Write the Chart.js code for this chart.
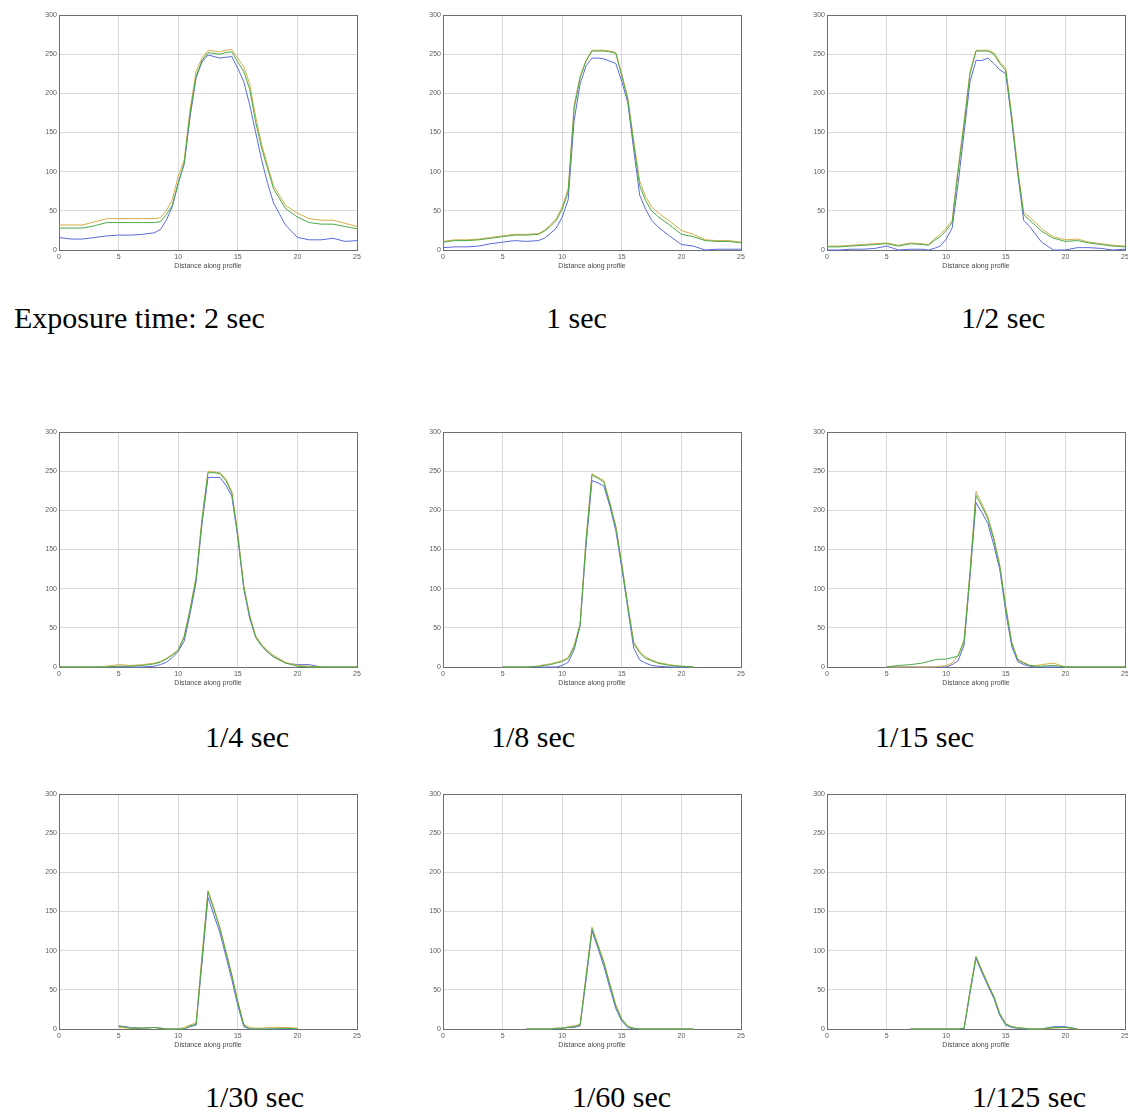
<!DOCTYPE html>
<html><head><meta charset="utf-8">
<script src="https://cdn.jsdelivr.net/npm/chart.js@4.4.1/dist/chart.umd.min.js"></script>
<style>
html,body{margin:0;padding:0;background:#fff;overflow:hidden;width:1128px;height:1112px;}
#wrap{position:relative;width:1128px;height:1112px;overflow:hidden;background:#fff;}
#wrap canvas{position:absolute;}
.cap{position:absolute;font-family:"Liberation Serif","Times New Roman",serif;font-size:30px;line-height:30px;color:#000;white-space:nowrap;}
</style></head><body><div id="wrap"></div>
<script>
// shared sample positions along the profile
const X = [0,1,2,3,4,5,6,7,8, 8.5,9,9.5,10,10.5,11,11.5,12,12.5,13,13.5,14,14.5,15,15.5,16,16.5,17,17.5, 18,19,20,21,22,23,24,25];
const N = null;
// 2 sec
const R1 = [32,32,32,36,40,40,40,40,40, 41,50,64,94,115,180,228,245,255,254,253,255,256,245,234,212,170,135,108, 82,57,47,40,38,38,34,30];
const G1 = [28,28,28,31,35,35,35,35,35, 36,45,57,85,110,175,222,242,252,251,250,252,253,240,228,205,163,130,104, 78,53,42,35,33,33,30,27];
const B1 = [16,14,14,16,18,19,19,20,22, 26,38,55,85,110,170,220,240,249,247,245,246,247,232,215,185,150,115,85, 60,32,16,13,13,15,11,12];
// 1 sec
const R2 = [11,13,13,14,16,18,20,20,21, 25,32,40,55,78,185,222,242,255,255,255,254,252,225,195,140,88,68,55, 48,37,25,20,13,12,12,10];
const G2 = [10,12,12,13,15,17,19,19,20, 24,30,38,52,74,180,220,241,254,254,254,253,251,222,192,135,82,63,50, 43,32,20,17,12,11,11,9];
const B2 = [3,4,4,5,8,10,12,11,12, 15,21,28,42,64,165,212,235,245,245,244,241,238,215,188,128,70,52,38, 30,18,7,5,0,1,1,1];
// 1/2 sec
const R3 = [5,5,6,7,8,9,6,9,8, 7,14,20,28,38,105,165,228,255,255,255,252,240,232,172,105,48,42,35, 27,17,13,14,10,8,6,5];
const G3 = [4,4,5,6,7,8,5,8,7, 6,12,17,25,35,100,160,225,254,254,254,250,238,229,168,100,45,38,31, 24,15,11,12,9,7,5,4];
const B3 = [0,0,1,1,2,5,0,1,1, 0,2,5,14,28,85,150,215,242,242,245,238,230,225,165,98,38,30,20, 10,0,0,3,3,2,0,1];
// 1/4 sec
const R4 = [0,0,0,0,1,3,2,3,5, 7,11,16,22,40,75,115,190,250,249,248,240,224,170,104,66,40,29,21, 15,6,2,1,0,0,0,0];
const G4 = [0,0,0,0,0,1,1,2,4, 6,10,15,21,38,73,113,188,248,248,247,238,222,168,102,64,38,27,19, 13,5,1,0,0,0,0,0];
const B4 = [0,0,0,0,0,0,0,0,1, 3,6,12,20,33,68,108,183,242,242,242,232,218,165,100,62,38,27,19, 13,5,3,3,0,0,0,0];
// 1/8 sec
const R5 = [N,N,N,N,N,0,0,0,1, 3,4,6,8,12,28,55,165,247,242,238,210,180,132,80,32,20,13,9, 6,3,1,0,N,N,N,N];
const G5 = [N,N,N,N,N,0,0,0,1, 2,3,5,7,11,25,54,160,245,241,236,208,178,130,78,30,18,11,8, 5,2,1,0,N,N,N,N];
const B5 = [N,N,N,N,N,0,0,0,0, 0,0,0,2,6,22,52,155,238,235,231,205,174,126,75,24,9,5,2, 1,0,0,0,N,N,N,N];
// 1/15 sec
const R6 = [N,N,N,N,N,0,0,0,0, 0,0,1,2,5,15,35,123,224,208,192,165,130,78,32,10,6,2,2, 3,5,0,0,0,0,0,0];
const G6 = [N,N,N,N,N,0,2,3,5, 7,9,10,10,12,14,32,120,219,205,189,162,128,75,30,9,5,2,1, 1,2,0,0,0,0,0,0];
const B6 = [N,N,N,N,N,0,0,0,0, 0,0,0,0,3,8,28,115,210,197,183,155,124,70,26,7,3,1,0, 0,0,0,0,0,0,0,0];
// 1/30 sec
const R7 = [N,N,N,N,N,2,1,1,2, 1,0,0,0,2,5,8,95,177,155,130,100,70,36,6,2,1,1,2, 2,2,1,N,N,N,N,N];
const G7 = [N,N,N,N,N,4,1,1,2, 1,0,0,0,0,4,6,90,175,152,128,98,68,34,5,0,0,0,0, 0,1,0,N,N,N,N,N];
const B7 = [N,N,N,N,N,4,2,1,2, 1,0,0,0,0,3,5,85,168,145,123,93,63,30,3,0,0,0,0, 0,0,0,N,N,N,N,N];
// 1/60 sec
const R8 = [N,N,N,N,N,N,N,0,0, 0,0,1,1,3,4,6,68,130,108,86,58,31,13,4,1,0,0,0, 0,0,0,0,N,N,N,N];
const G8 = [N,N,N,N,N,N,N,0,0, 0,0,1,1,2,3,5,66,128,106,84,56,29,12,3,1,0,0,0, 0,0,0,0,N,N,N,N];
const B8 = [N,N,N,N,N,N,N,0,0, 0,0,0,1,2,2,4,62,125,103,80,52,26,10,2,0,0,0,0, 0,0,0,0,N,N,N,N];
// 1/125 sec
const R9 = [N,N,N,N,N,N,N,0,0, 0,0,0,0,0,0,1,50,93,75,58,42,20,7,3,2,1,0,0, 0,1,2,0,N,N,N,N];
const G9 = [N,N,N,N,N,N,N,0,0, 0,0,0,0,0,0,1,48,92,74,57,41,19,6,3,1,1,0,0, 0,2,2,0,N,N,N,N];
const B9 = [N,N,N,N,N,N,N,0,0, 0,0,0,0,0,0,0,46,90,72,55,39,17,5,2,1,0,0,0, 0,3,3,0,N,N,N,N];

const CAPTIONS = ["Exposure time: 2 sec","1 sec","1/2 sec","1/4 sec","1/8 sec","1/15 sec","1/30 sec","1/60 sec","1/125 sec"];
const X_TICKS = [0,5,10,15,20,25];
const Y_TICKS = [0,50,100,150,200,250,300];
const X_TITLE = "Distance along profile";

const PANELS = [[R1,G1,B1],[R2,G2,B2],[R3,G3,B3],[R4,G4,B4],[R5,G5,B5],[R6,G6,B6],[R7,G7,B7],[R8,G8,B8],[R9,G9,B9]];

// layout
const COL_LEFT = [59,443,827], ROW_TOP = [15,432,794], PW = 298, PH = 235;
const YW = 30, XH = 20, PADT = 10, PADR = 12, PADB = 10;
const CAP_POS = [[14,303],[546,303],[961,303],[205,722],[491,722],[875,722],[205,1082],[572,1082],[972,1082]];
const COLORS = {r:'#d6ae48', g:'#4aa84a', b:'#5a6bdc'};

const frame = {
  id:'frame',
  beforeDatasetsDraw(chart){
    const a = chart.chartArea, ctx = chart.ctx;
    ctx.save();
    ctx.strokeStyle = '#6e6e6e';
    ctx.lineWidth = 1;
    ctx.strokeRect(a.left+0.5, a.top+0.5, a.right-a.left, a.bottom-a.top);
    ctx.restore();
  }
};

const wrap = document.getElementById('wrap');
const pts = arr => X.map((x,i)=>({x:x, y:arr[i]}));
const tickFont = {family:'"Liberation Sans", Arial, sans-serif', size:7};

PANELS.forEach((p,k)=>{
  const c = document.createElement('canvas');
  const W = YW + PW + PADR, H = PADT + PH + XH + PADB;
  c.width = W; c.height = H;
  c.style.width = W+'px'; c.style.height = H+'px';
  c.style.left = (COL_LEFT[k%3]-YW)+'px';
  c.style.top = (ROW_TOP[Math.floor(k/3)]-PADT)+'px';
  wrap.appendChild(c);
  const [R,G,B] = p;
  const ds = (arr,col)=>({data:pts(arr), borderColor:col, borderWidth:1, pointRadius:0, tension:0, fill:false, spanGaps:false, clip:3});
  new Chart(c,{
    type:'line',
    data:{datasets:[ds(G,COLORS.g), ds(R,COLORS.r), ds(B,COLORS.b)]},
    options:{
      responsive:false, animation:false, devicePixelRatio:1, events:[],
      layout:{padding:{left:0, top:PADT, right:PADR, bottom:PADB}},
      plugins:{legend:{display:false}, tooltip:{enabled:false}, title:{display:false}},
      scales:{
        x:{type:'linear', min:0, max:25,
           afterBuildTicks:s=>{s.ticks = X_TICKS.map(v=>({value:v}));},
           afterFit:s=>{s.height = XH;},
           grid:{color:'#d9d9d9', lineWidth:1, drawTicks:false},
           border:{display:false},
           ticks:{font:tickFont, color:'#5a5a5a', padding:3, maxRotation:0, autoSkip:false},
           title:{display:true, text:X_TITLE, font:tickFont, color:'#4a4a4a', padding:{top:0,bottom:0}}},
        y:{type:'linear', min:0, max:300,
           afterBuildTicks:s=>{s.ticks = Y_TICKS.map(v=>({value:v}));},
           afterFit:s=>{s.width = YW;},
           grid:{color:'#d9d9d9', lineWidth:1, drawTicks:false},
           border:{display:false},
           ticks:{font:tickFont, color:'#5a5a5a', padding:2, autoSkip:false}}
      }
    },
    plugins:[frame]
  });
});

CAPTIONS.forEach((t,k)=>{
  const d = document.createElement('div');
  d.className = 'cap';
  d.textContent = t;
  d.style.left = CAP_POS[k][0]+'px';
  d.style.top = CAP_POS[k][1]+'px';
  wrap.appendChild(d);
});
</script>
</body></html>
